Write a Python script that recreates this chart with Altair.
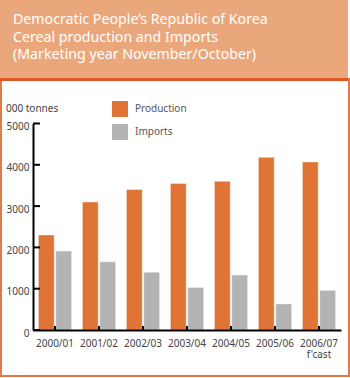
import altair as alt
import pandas as pd

SEASONS = ["2000/01", "2001/02", "2002/03", "2003/04", "2004/05", "2005/06", "2006/07\nf'cast"]
PRODUCTION = [2300, 3100, 3400, 3550, 3600, 4180, 4070]
IMPORTS = [1910, 1650, 1400, 1030, 1330, 630, 960]
SERIES = ["Production", "Imports"]
COLORS = ["#E07436", "#B3B3B3"]
Y_TICKS = [0, 1000, 2000, 3000, 4000, 5000]
TITLE_LINES = ["Democratic People\u2019s Republic of Korea",
               "Cereal production and Imports",
               "(Marketing year November/October)"]
UNIT_LABEL = "000 tonnes"

rows = []
for s, p, i in zip(SEASONS, PRODUCTION, IMPORTS):
    rows.append({"season": s, "series": "Production", "value": p})
    rows.append({"season": s, "series": "Imports", "value": i})
df = pd.DataFrame(rows)
one = pd.DataFrame({"k": [0]})
ticks_df = pd.DataFrame({"v": Y_TICKS})
seasons_df = pd.DataFrame({"season": SEASONS})

W, H = 308, 206.5
FONT = "Noto Sans"
TXT = "#444444"

x_scale = alt.Scale(domain=SEASONS, paddingInner=0, paddingOuter=0)
y_scale = alt.Scale(domain=[0, 5000], nice=False)

bars = alt.Chart(df).mark_bar(stroke="white", strokeWidth=0.8, strokeOpacity=0.5).encode(
    x=alt.X("season:N", scale=x_scale, sort=SEASONS,
            axis=alt.Axis(title=None, labelAngle=0, ticks=False, domainColor="black",
                          domainWidth=2, labelColor=TXT, labelFont=FONT, labelFontSize=10,
                          labelPadding=8, labelExpr="split(datum.label, '\\n')",
                          labelLineHeight=11, zindex=1)),
    xOffset=alt.XOffset("series:N", sort=SERIES,
                        scale=alt.Scale(domain=SERIES, paddingInner=0.09, paddingOuter=0.31)),
    y=alt.Y("value:Q", scale=y_scale,
            axis=alt.Axis(title=None, values=Y_TICKS, format="d", ticks=False, grid=False,
                          domainColor="black", domainWidth=2, labelColor=TXT,
                          labelFont=FONT, labelFontSize=10, labelPadding=4,
                          labelOffset=3, zindex=1)),
    color=alt.Color("series:N", sort=SERIES,
                    scale=alt.Scale(domain=SERIES, range=COLORS),
                    legend=alt.Legend(title=None, orient="none", legendX=79, legendY=-22.5,
                                      symbolType="square", symbolSize=256,
                                      symbolStrokeWidth=0, rowPadding=7, labelOffset=7,
                                      labelFont=FONT, labelFontSize=10, labelColor="#555555",
                                      padding=0)),
)

y_ticks = alt.Chart(ticks_df).mark_rule(color="black", strokeWidth=2).encode(
    y=alt.Y("v:Q", scale=y_scale), x=alt.value(0), x2=alt.value(7))

x_ticks = alt.Chart(seasons_df).mark_rule(color="black", strokeWidth=2).encode(
    x=alt.X("season:N", scale=x_scale, sort=SEASONS), y=alt.value(H), y2=alt.value(H - 4))

header = alt.Chart(one).mark_rect(color="#EBA77C").encode(
    x=alt.value(-33), x2=alt.value(315), y=alt.value(-123.5), y2=alt.value(-45.5))
header_line = alt.Chart(one).mark_rect(color="#E0581F").encode(
    x=alt.value(-33), x2=alt.value(317), y=alt.value(-45.5), y2=alt.value(-42.5))
left_border = alt.Chart(one).mark_rect(color="#E27A48").encode(
    x=alt.value(-33), x2=alt.value(-31), y=alt.value(-42.5), y2=alt.value(253.5))
right_border = alt.Chart(one).mark_rect(color="#E27A48").encode(
    x=alt.value(315), x2=alt.value(317), y=alt.value(-45.5), y2=alt.value(253.5))
bottom_border = alt.Chart(one).mark_rect(color="#E27A48").encode(
    x=alt.value(-33), x2=alt.value(317), y=alt.value(251.5), y2=alt.value(253.5))

title = alt.Chart(one).mark_text(text=TITLE_LINES, align="left", baseline="alphabetic",
                                 font=FONT, fontSize=14.2, color="white",
                                 lineHeight=17.7).encode(x=alt.value(-20), y=alt.value(-99.5))
unit = alt.Chart(one).mark_text(text=UNIT_LABEL, align="left", baseline="middle",
                                font=FONT, fontSize=10, color=TXT).encode(
    x=alt.value(-27), y=alt.value(-14.5))

chart = alt.layer(header, header_line, left_border, right_border, bottom_border,
                  title, unit, bars, y_ticks, x_ticks).properties(
    width=W, height=H,
    autosize=alt.AutoSizeParams(type="none"),
    padding={"left": 33, "top": 123.5, "right": 9, "bottom": 48},
    background="white",
).configure_view(stroke=None)

chart.save("out.html", embed_options={"renderer": "svg", "actions": False})
